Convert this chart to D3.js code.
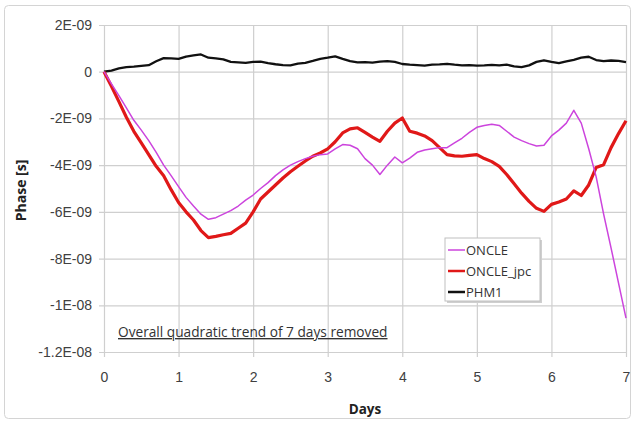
<!DOCTYPE html>
<html>
<head>
<meta charset="utf-8">
<script src="https://cdn.jsdelivr.net/npm/d3@7/dist/d3.min.js"></script>
<style>
  html, body { margin: 0; padding: 0; background: #fff; }
  svg { display: block; font-family: "Open Sans", "DejaVu Sans", sans-serif; }
</style>
</head>
<body>
<svg id="chart" width="635" height="424"></svg>
<script>
// Sample times (days)
const days = [
  0.0, 0.1, 0.2, 0.3, 0.4, 0.5, 0.6, 0.7, 0.8, 0.9,
  1.0, 1.1, 1.2, 1.3, 1.4, 1.5, 1.6, 1.7, 1.8, 1.9,
  2.0, 2.1, 2.2, 2.3, 2.4, 2.5, 2.6, 2.7, 2.8, 2.9,
  3.0, 3.1, 3.2, 3.3, 3.4, 3.5, 3.6, 3.7, 3.8, 3.9,
  4.0, 4.1, 4.2, 4.3, 4.4, 4.5, 4.6, 4.7, 4.8, 4.9,
  5.0, 5.1, 5.2, 5.3, 5.4, 5.5, 5.6, 5.7, 5.8, 5.9,
  6.0, 6.1, 6.2, 6.3, 6.4, 6.5, 6.6, 6.7, 6.8, 6.9,
  7.0
];

// Phase residuals in nanoseconds (quadratic trend removed)
const oncle = [
  0, -0.52, -1.02, -1.55, -2.08, -2.5, -2.95, -3.45, -4.0, -4.45,
  -4.92, -5.38, -5.75, -6.1, -6.32, -6.25, -6.1, -5.95, -5.75, -5.5,
  -5.28, -5.0, -4.75, -4.45, -4.2, -4.0, -3.85, -3.72, -3.62, -3.55,
  -3.52, -3.3, -3.12, -3.15, -3.3, -3.72, -4.0, -4.4, -4.0, -3.65,
  -3.9, -3.7, -3.45, -3.35, -3.3, -3.25, -3.25, -3.05, -2.85, -2.6,
  -2.38, -2.3, -2.25, -2.3, -2.55, -2.8, -2.95, -3.08, -3.18, -3.15,
  -2.75, -2.5, -2.2, -1.65, -2.2, -3.3, -4.5, -6.1, -7.55, -9.05,
  -10.55
];

const oncleJpc = [
  0, -0.62, -1.28, -1.95, -2.55, -3.05, -3.55, -4.05, -4.45, -5.05,
  -5.6, -6.0, -6.35, -6.8, -7.1, -7.05, -6.98, -6.92, -6.7, -6.48,
  -6.0, -5.45, -5.15, -4.85, -4.55, -4.28, -4.05, -3.82, -3.62, -3.48,
  -3.3, -3.0, -2.62, -2.45, -2.4, -2.6, -2.8, -2.98, -2.55, -2.2,
  -1.98, -2.55, -2.63, -2.75, -2.95, -3.25, -3.55, -3.6, -3.62, -3.58,
  -3.55, -3.72, -3.85, -4.05, -4.4, -4.8, -5.2, -5.55, -5.85, -5.98,
  -5.68, -5.58, -5.45, -5.1, -5.3, -4.85, -4.1, -3.98, -3.25, -2.65,
  -2.1
];

const phm1 = [
  0, 0.05, 0.14, 0.2, 0.22, 0.25, 0.28, 0.45, 0.58, 0.57,
  0.55, 0.65, 0.7, 0.74, 0.6, 0.57, 0.53, 0.42, 0.4, 0.38,
  0.42, 0.43, 0.37, 0.32, 0.28, 0.27, 0.35, 0.38, 0.46, 0.55,
  0.6, 0.66, 0.55, 0.45, 0.4, 0.41, 0.39, 0.43, 0.45, 0.42,
  0.33, 0.3, 0.28, 0.26, 0.3, 0.31, 0.34, 0.3, 0.27, 0.28,
  0.26, 0.27, 0.29, 0.27, 0.3, 0.23, 0.2, 0.27, 0.42, 0.49,
  0.42, 0.37, 0.44, 0.51, 0.6, 0.64, 0.5, 0.45, 0.48, 0.46,
  0.41
];

const seriesNames = ["ONCLE", "ONCLE_jpc", "PHM1"];
const seriesColors = ["#cc44dd", "#e01818", "#111111"];
const seriesWidths = [1.5, 3.2, 2.3];

const xTicks = [0, 1, 2, 3, 4, 5, 6, 7];
const yTicks = [2, 0, -2, -4, -6, -8, -10, -12];   // ns
const yTickLabels = ["2E-09", "0", "-2E-09", "-4E-09", "-6E-09", "-8E-09", "-1E-08", "-1.2E-08"];

const xTitle = "Days";
const yTitle = "Phase [s]";
const note = "Overall quadratic trend of 7 days removed";

// ---- layout ----
const svg = d3.select("#chart");
const plotL = 104, plotR = 626, plotT = 25, plotB = 352;

const x = d3.scaleLinear().domain([0, 7]).range([plotL, plotR]);
const y = d3.scaleLinear().domain([-12, 2]).range([plotB, plotT]);

// outer chart frame
svg.append("rect")
  .attr("x", 4.5).attr("y", 5.5).attr("width", 626).attr("height", 413)
  .attr("rx", 4).attr("fill", "#fff").attr("stroke", "#d4d4d4").attr("stroke-width", 1);

// y axis with gridlines
const yAxis = svg.append("g")
  .attr("transform", `translate(${plotL - 5},0)`)
  .call(d3.axisLeft(y)
    .tickValues(yTicks)
    .tickSizeInner(-(plotR - plotL + 5))
    .tickSizeOuter(0)
    .tickPadding(7)
    .tickFormat((d, i) => yTickLabels[i]));
yAxis.select(".domain").remove();
yAxis.selectAll(".tick line").attr("stroke", "#cfcfcf").attr("stroke-width", 1.2);
yAxis.selectAll(".tick text").attr("fill", "#404040").attr("font-size", 14);

// x axis with gridlines
const xAxis = svg.append("g")
  .attr("transform", `translate(0,${plotB + 5})`)
  .call(d3.axisBottom(x)
    .tickValues(xTicks)
    .tickSizeInner(-(plotB - plotT + 5))
    .tickSizeOuter(0)
    .tickPadding(15)
    .tickFormat(d3.format("d")));
xAxis.select(".domain").remove();
xAxis.selectAll(".tick line").attr("stroke", "#cfcfcf").attr("stroke-width", 1.2);
xAxis.selectAll(".tick text").attr("fill", "#404040").attr("font-size", 14);

// axis titles
svg.append("text")
  .attr("x", (plotL + plotR) / 2).attr("y", 414)
  .attr("text-anchor", "middle").attr("font-size", 13.5).attr("font-weight", "bold")
  .attr("fill", "#222").text(xTitle);

svg.append("text")
  .attr("transform", `translate(26,${(plotT + plotB) / 2 + 2}) rotate(-90)`)
  .attr("text-anchor", "middle").attr("font-size", 14).attr("font-weight", "bold")
  .attr("fill", "#222").text(yTitle);

// series lines
const seriesValues = [oncle, oncleJpc, phm1];
const line = d3.line()
  .x((d, i) => x(days[i]))
  .y(d => y(d));

// draw PHM1 first, then ONCLE_jpc, ONCLE on top
[2, 1, 0].forEach(k => {
  svg.append("path")
    .datum(seriesValues[k])
    .attr("fill", "none")
    .attr("stroke", seriesColors[k])
    .attr("stroke-width", seriesWidths[k])
    .attr("stroke-linejoin", "round")
    .attr("d", line);
});

// annotation
svg.append("text")
  .attr("x", 118).attr("y", 337)
  .attr("font-size", 13.7).attr("fill", "#333")
  .attr("text-decoration", "underline")
  .text(note);

// legend
const lg = svg.append("g").attr("transform", "translate(445,238)");
lg.append("rect").attr("x", 2).attr("y", 2).attr("width", 95).attr("height", 63)
  .attr("fill", "#cfcfcf");
lg.append("rect").attr("x", 0).attr("y", 0).attr("width", 95).attr("height", 63)
  .attr("fill", "#fff").attr("stroke", "#c0c0c0");
seriesNames.forEach((name, i) => {
  const cy = 12 + i * 21;
  lg.append("line").attr("x1", 3).attr("x2", 20).attr("y1", cy).attr("y2", cy)
    .attr("stroke", seriesColors[i]).attr("stroke-width", i === 0 ? 1.5 : 2.5);
  lg.append("text").attr("x", 21).attr("y", cy + 4.5)
    .attr("font-size", 13).attr("fill", "#333").text(name);
});
</script>
</body>
</html>
